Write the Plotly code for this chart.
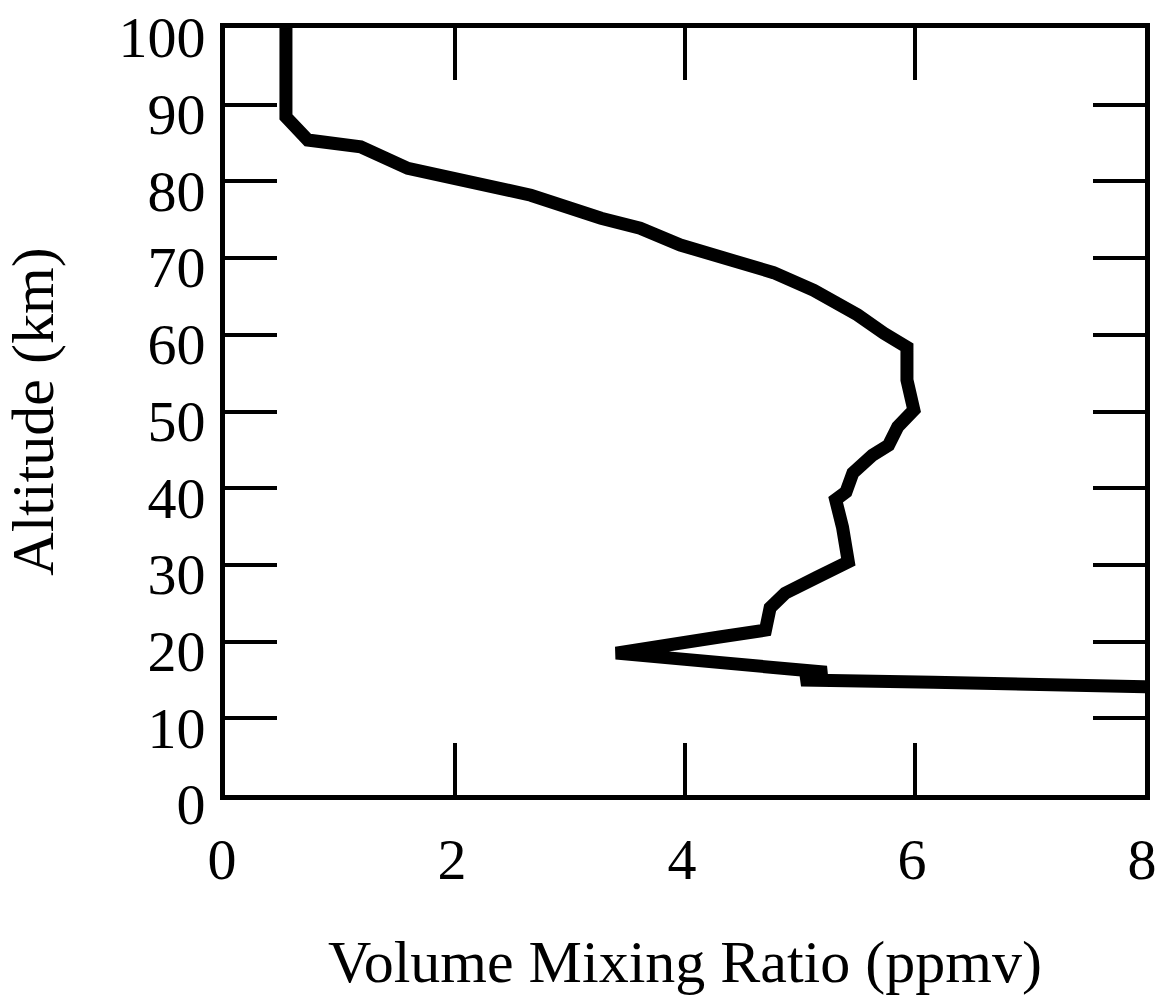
import plotly.graph_objects as go

# Volume mixing ratio profile (ppmv) vs altitude (km)
vmr_ppmv = [0.53, 0.53, 0.72, 1.18, 1.59, 2.66, 3.27, 3.61, 3.96, 4.48, 4.77,
            5.12, 5.33, 5.50, 5.73, 5.93, 5.93, 5.99, 5.85, 5.77, 5.63, 5.46,
            5.40, 5.31, 5.37, 5.42, 5.15, 4.87, 4.74, 4.70, 4.30, 3.40, 5.23,
            5.01, 6.16, 8.05]
altitude_km = [100, 88.4, 85.4, 84.5, 81.7, 78.2, 75.2, 73.9, 71.7, 69.5, 68.1,
               65.8, 64.1, 62.6, 60.2, 58.4, 54.1, 50.2, 48.0, 45.6, 44.3, 42.0,
               39.5, 38.5, 34.9, 30.4, 28.4, 26.3, 24.4, 21.5, 20.6, 18.5, 16.0,
               15.0, 14.7, 14.1]

x_ticks = [0, 2, 4, 6, 8]
y_ticks = [0, 10, 20, 30, 40, 50, 60, 70, 80, 90, 100]

FONT = "Liberation Serif"

fig = go.Figure()
fig.add_trace(go.Scatter(
    x=vmr_ppmv, y=altitude_km, mode="lines",
    line=dict(color="black", width=13),
    hoverinfo="skip",
))

axis_common = dict(
    showgrid=False, zeroline=False,
    showline=True, linecolor="black", linewidth=5, mirror="ticks",
    ticks="inside", ticklen=52, tickwidth=4, tickcolor="black",
    tickfont=dict(family=FONT, size=58, color="black"),
    ticklabeloverflow="allow",
    automargin=False,
)

fig.update_layout(
    template="none",
    width=1157, height=1000,
    margin=dict(l=225, r=12, t=28, b=205),
    paper_bgcolor="white", plot_bgcolor="white",
    showlegend=False,
    font=dict(family=FONT, color="black"),
    xaxis=dict(
        range=[0, 8], tickvals=x_ticks,
        title=dict(text="Volume Mixing Ratio (ppmv)",
                   font=dict(family=FONT, size=60, color="black"), standoff=51),
        ticklabelstandoff=9,
        ticklabelshift=-3,
        **axis_common,
    ),
    yaxis=dict(
        range=[0, 100], tickvals=y_ticks,
        title=dict(text="Altitude (km)",
                   font=dict(family=FONT, size=60, color="black"), standoff=70),
        ticklabelstandoff=3,
        ticklabelshift=9,
        **axis_common,
    ),
)

fig.write_html("out.html")
